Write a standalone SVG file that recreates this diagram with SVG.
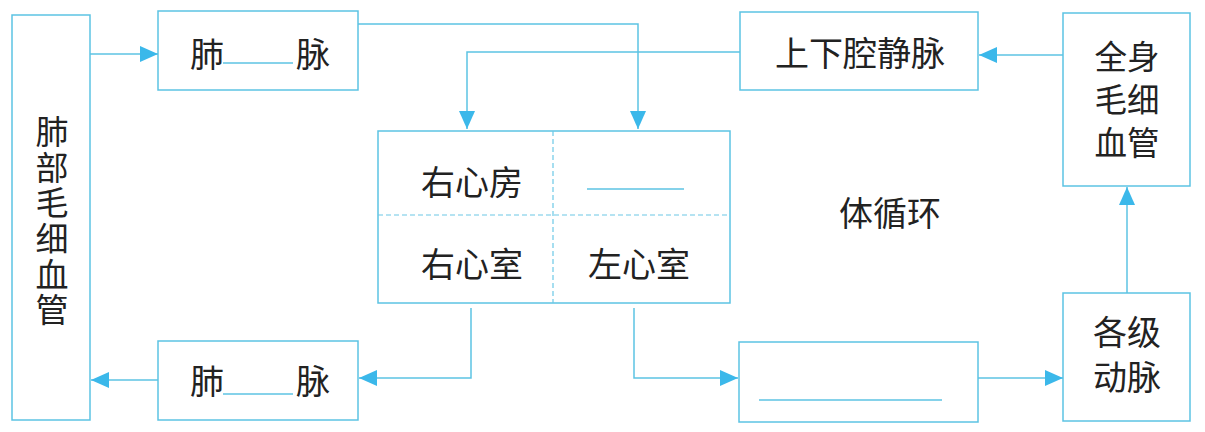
<svg xmlns="http://www.w3.org/2000/svg" width="1205" height="432" viewBox="0 0 1205 432">
<style>
.box{fill:none;stroke:#5cc3e3;stroke-width:1.5}
.ln{fill:none;stroke:#5cc3e3;stroke-width:1.5}
.dash{fill:none;stroke:#6cc8e6;stroke-width:1.2;stroke-dasharray:5 3}
.t{font-family:"Noto Sans CJK SC","Noto Sans CJK JP",sans-serif;font-size:34px;fill:#222;text-anchor:middle;dominant-baseline:central}
.tv{font-size:33px;writing-mode:vertical-rl;letter-spacing:2.6px}
.ts{font-size:32.5px}
</style>
<defs>
<marker id="ah" markerUnits="userSpaceOnUse" markerWidth="18" markerHeight="16" refX="18" refY="8" orient="auto">
<path d="M0,0 L18,8 L0,16 z" fill="#3bb8ea"/>
</marker>
</defs>
<rect width="1205" height="432" fill="#ffffff"/>
<g id="n-feibu">
<rect class="box" x="12" y="15" width="78" height="405"/>
<text class="t tv" x="52" y="222">肺部毛细血管</text>
</g>
<g id="n-fei-top">
<rect class="box" x="158" y="11" width="200" height="79"/>
<text class="t" x="207" y="52">肺</text>
<line class="ln" x1="223" y1="63" x2="293" y2="63"/>
<text class="t" x="313" y="52">脉</text>
</g>
<g id="n-fei-bottom">
<rect class="box" x="158" y="341" width="200" height="79"/>
<text class="t" x="207" y="379">肺</text>
<line class="ln" x1="223" y1="394" x2="293" y2="394"/>
<text class="t" x="313" y="379">脉</text>
</g>
<g id="n-heart">
<rect class="box" x="378" y="131" width="352" height="172"/>
<line class="dash" x1="553" y1="131" x2="553" y2="303"/>
<line class="dash" x1="378" y1="215" x2="730" y2="215"/>
<text class="t" x="472" y="180">右心房</text>
<line class="ln" x1="587" y1="189" x2="684" y2="189"/>
<text class="t" x="472" y="262">右心室</text>
<text class="t" x="639" y="262">左心室</text>
</g>
<g id="n-vena">
<rect class="box" x="740" y="12" width="238" height="78"/>
<text class="t" x="860" y="51">上下腔静脉</text>
</g>
<g id="n-body-cap">
<rect class="box" x="1063" y="13" width="127" height="173"/>
<text class="t ts" x="1127" y="54"><tspan x="1127" y="54">全身</tspan><tspan x="1127" y="97">毛细</tspan><tspan x="1127" y="140">血管</tspan></text>
</g>
<g id="n-arteries">
<rect class="box" x="1063" y="293" width="127" height="128"/>
<text class="t" x="1127" y="330"><tspan x="1127" y="330">各级</tspan><tspan x="1127" y="375">动脉</tspan></text>
</g>
<g id="n-aorta">
<rect class="box" x="739" y="342" width="239" height="80"/>
<line class="ln" x1="759" y1="400" x2="942" y2="400"/>
</g>
<g id="n-label">
<text class="t" x="890" y="211">体循环</text>
</g>
<g id="connectors">
<polyline class="ln" points="90,54 158,54" marker-end="url(#ah)"/>
<polyline class="ln" points="358,24 638,24 638,129" marker-end="url(#ah)"/>
<polyline class="ln" points="740,52 467,52 467,129" marker-end="url(#ah)"/>
<polyline class="ln" points="1063,55 979,55" marker-end="url(#ah)"/>
<polyline class="ln" points="1127,293 1127,187" marker-end="url(#ah)"/>
<polyline class="ln" points="978,378 1063,378" marker-end="url(#ah)"/>
<polyline class="ln" points="634,308 634,378 738,378" marker-end="url(#ah)"/>
<polyline class="ln" points="471,308 471,378 359,378" marker-end="url(#ah)"/>
<polyline class="ln" points="158,380 91,380" marker-end="url(#ah)"/>
</g>
</svg>
